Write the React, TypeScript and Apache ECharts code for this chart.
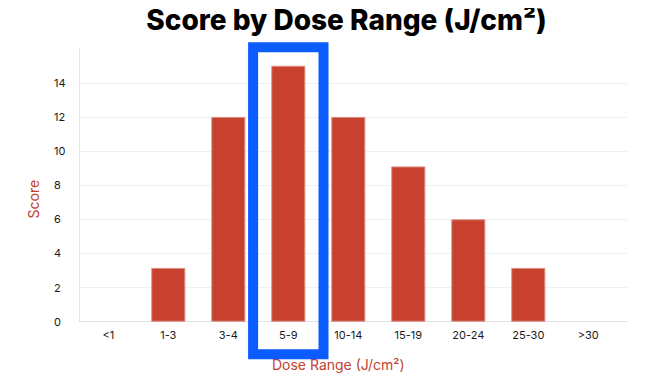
import React, { useEffect, useRef } from "react";
import * as echarts from "echarts";

const categories = ["<1", "1-3", "3-4", "5-9", "10-14", "15-19", "20-24", "25-30", ">30"];
const scores = [0, 3.15, 12, 15, 12, 9.1, 6, 3.15, 0];
const highlighted = "5-9";
const titleText = "Score by Dose Range (J/cm²)";
const xName = "Dose Range (J/cm²)";
const yName = "Score";

const RED = "#C8412F";
const BLUE = "#0A5CFF";
const FONT = "Inter, 'Noto Sans', sans-serif";

export default function App() {
  const ref = useRef<HTMLDivElement>(null);
  useEffect(() => {
    if (!ref.current) return;
    const chart = echarts.init(ref.current, undefined, { renderer: "svg" });
    const top = 48.7;
    const bottom = 59.3;
    const yCommon = {
      type: "value" as const,
      min: 0,
      max: 16,
      interval: 2,
    };
    chart.setOption({
      animation: false,
      title: {
        text: titleText,
        left: 341.5,
        textAlign: "center",
        top: 1,
        textStyle: { fontFamily: FONT, fontWeight: 800, fontSize: 28, color: "#000" },
      },
      grid: [
        { left: 79, right: 23, top, bottom },
        { left: 78.3, width: 540, top, bottom },
      ],
      xAxis: [
        {
          gridIndex: 0,
          type: "category",
          data: [""],
          axisLine: { show: true, lineStyle: { color: "#e2e2e2", width: 1 } },
          axisTick: { show: false },
          axisLabel: { show: false },
          splitLine: { show: false },
        },
        {
          gridIndex: 1,
          type: "category",
          data: categories,
          axisLine: { show: false },
          axisTick: { show: false },
          axisLabel: { fontFamily: FONT, fontSize: 11, color: "#1a1a1a", margin: 8 },
          name: xName,
          nameLocation: "middle",
          nameGap: 36,
          nameTextStyle: { fontFamily: FONT, fontSize: 14, color: "#C4412F", padding: [0, 20, 0, 0] },
        },
      ],
      yAxis: [
        {
          ...yCommon,
          gridIndex: 0,
          axisLine: { show: true, lineStyle: { color: "#e6e6e6", width: 1 } },
          axisTick: { show: false },
          splitLine: { show: true, showMaxLine: false, lineStyle: { color: "#f0f0f0", width: 1 } },
          axisLabel: {
            fontFamily: FONT,
            fontSize: 11,
            color: "#1a1a1a",
            align: "left",
            margin: 25,
            padding: [0, 0, 6, 0],
            formatter: (v: number) => (v >= 16 ? "" : String(v)),
          },
          name: yName,
          nameLocation: "middle",
          nameRotate: 90,
          nameGap: 39,
          nameTextStyle: { fontFamily: FONT, fontSize: 14, color: "#C4412F", padding: [0, 28, 0, 0] },
        },
        {
          ...yCommon,
          gridIndex: 1,
          show: false,
        },
      ],
      series: [
        {
          type: "bar",
          xAxisIndex: 1,
          yAxisIndex: 1,
          data: scores.map((v) => ({
            value: v,
            itemStyle: v === 0 ? { borderWidth: 0, opacity: 0 } : {},
          })),
          barWidth: 34,
          itemStyle: { color: RED, borderColor: "#DB8A7E", borderWidth: 1 },
        },
      ],
    });
    const cx = chart.convertToPixel({ xAxisIndex: 1 }, highlighted) as unknown as number;
    chart.setOption({
      graphic: [
        {
          type: "rect",
          shape: { x: cx - 35.2, y: 47.3, width: 70.4, height: 306.9 },
          style: { fill: "none", stroke: BLUE, lineWidth: 10 },
          z: 100,
        },
      ],
    });
    return () => chart.dispose();
  }, []);
  return <div ref={ref} style={{ width: 650, height: 381, margin: -8 }} />;
}
